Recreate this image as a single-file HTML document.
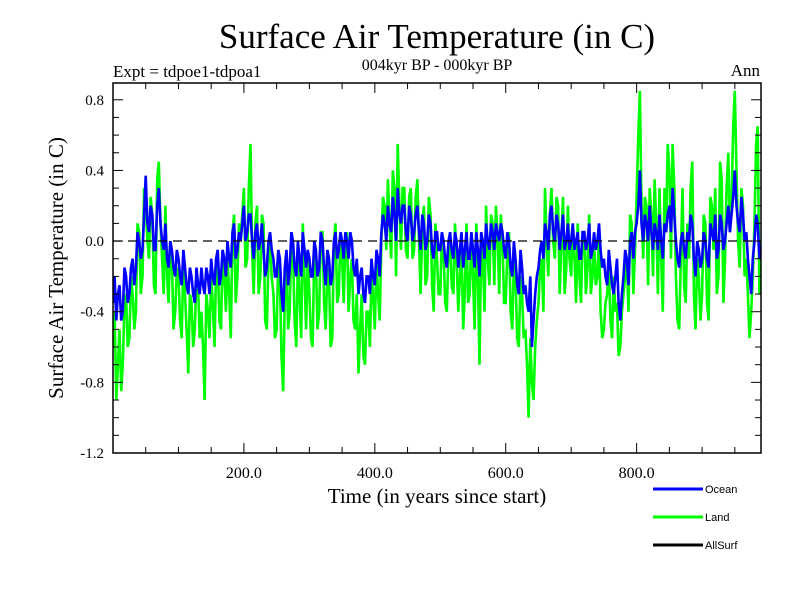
<!DOCTYPE html>
<html><head><meta charset="utf-8"><style>
body{margin:0;background:#fff}
svg text{font-family:"Liberation Serif",serif}
</style></head><body>
<svg id="chart" width="800" height="600" xmlns="http://www.w3.org/2000/svg">
<rect width="800" height="600" fill="#fff"/>
<text x="437" y="48" font-size="35" text-anchor="middle">Surface Air Temperature (in C)</text>
<text x="437" y="70" font-size="16" text-anchor="middle">004kyr BP - 000kyr BP</text>
<text x="113" y="77" font-size="17">Expt = tdpoe1-tdpoa1</text>
<text x="760" y="76" font-size="17" text-anchor="end">Ann</text>
<text transform="translate(63,268) rotate(-90)" font-size="21" text-anchor="middle">Surface Air Temperature (in C)</text>
<text x="437" y="503" font-size="21" text-anchor="middle">Time (in years since start)</text>
<defs><clipPath id="pc"><rect x="113" y="83" width="648" height="370"/></clipPath></defs>
<g id="series" clip-path="url(#pc)"></g>
<line x1="113" x2="761" y1="241" y2="241" stroke="#000" stroke-width="1.3" stroke-dasharray="9,6"/>
<g id="axes"></g>
<g>
<line x1="653" x2="703" y1="489" y2="489" stroke="#0000ff" stroke-width="3"/>
<text x="705" y="493" font-size="11" style="font-family:'Liberation Sans',sans-serif">Ocean</text>
<line x1="653" x2="703" y1="517" y2="517" stroke="#00ff00" stroke-width="3"/>
<text x="705" y="521" font-size="11" style="font-family:'Liberation Sans',sans-serif">Land</text>
<line x1="653" x2="703" y1="545" y2="545" stroke="#000" stroke-width="3"/>
<text x="705" y="549" font-size="11" style="font-family:'Liberation Sans',sans-serif">AllSurf</text>
</g>
</svg>
<script>
const oceanA=[-0.35,-0.45,-0.25,-0.4,-0.2,-0.3,-0.1,-0.15,0.0,-0.05,0.37,0.05,0.15,-0.05,0.3,0.0,0.1,-0.15,-0.05,-0.2,
-0.1,-0.25,-0.15,-0.3,-0.2,-0.35,-0.25,-0.15,-0.3,-0.2,-0.1,-0.25,-0.05,-0.2,-0.1,0.0,-0.15,0.1,-0.05,0.0,
0.2,0.05,0.15,-0.1,0.1,0.0,-0.05,-0.15,0.05,-0.1,-0.2,-0.1,-0.4,-0.05,-0.15,0.0,-0.2,-0.1,0.05,-0.15,
-0.1,-0.2,-0.05,-0.15,0.0,-0.25,-0.1,-0.2,0.05,-0.05,0.0,0.05,-0.1,0.0,-0.2,-0.3,-0.15,-0.35,-0.2,-0.1,
-0.25,-0.1,0.05,0.1,0.2,0.05,0.15,0.3,0.1,0.2,0.0,0.15,0.05,0.2,-0.05,0.1,0.0,0.1,-0.1,0.05,
-0.05,0.0,-0.15,0.05,-0.1,0.0,-0.05,-0.15,0.05,-0.1,-0.05,0.05,-0.2,0.0,0.1,-0.05,0.05,0.1,0.0,0.05,
-0.1,0.0,-0.2,-0.1,-0.3,-0.15,-0.25,-0.4,-0.6,-0.3,-0.15,0.0,0.1,-0.05,0.2,0.0,0.1,0.05,-0.05,0.1,
0.0,-0.05,0.05,-0.1,0.05,0.0,-0.1,0.05,0.0,-0.05,-0.1,-0.25,-0.15,-0.3,-0.1,-0.45,-0.2,-0.1,0.0,-0.1,
0.1,0.4,0.0,0.1,0.2,-0.05,0.05,0.15,-0.1,0.05,0.2,0.3,0.0,-0.15,0.05,-0.1,0.0,0.1,-0.2,-0.05,
-0.1,0.0,-0.15,0.05,0.15,-0.05,0.1,0.0,0.2,0.15,0.4,0.1,0.25,0.0,-0.1,-0.3,0.0,0.1,-0.05,0.1];
const oceanB=[-0.2,-0.3,-0.45,-0.15,-0.35,-0.15,-0.25,0.05,-0.1,0.15,0.1,0.2,-0.05,0.2,0.1,-0.05,-0.1,0.0,-0.15,-0.05,
-0.2,-0.05,-0.25,-0.15,-0.3,-0.15,-0.3,-0.25,-0.15,-0.3,-0.2,-0.1,-0.25,-0.05,-0.2,-0.1,0.05,-0.1,0.05,0.1,
0.0,0.15,0.0,0.05,-0.05,0.1,-0.2,0.0,-0.05,-0.2,-0.05,-0.3,-0.15,-0.25,0.05,-0.15,0.0,-0.2,-0.05,-0.05,
-0.2,0.0,-0.2,0.05,-0.15,-0.05,-0.25,0.0,-0.1,0.05,-0.1,0.0,0.05,-0.15,-0.1,-0.2,-0.3,-0.2,-0.3,-0.2,
-0.05,-0.2,0.15,0.0,0.1,0.25,0.0,0.15,0.2,0.05,0.2,0.0,0.15,0.05,0.15,-0.05,0.15,-0.05,0.05,-0.05,
0.05,-0.1,0.0,-0.05,0.05,-0.15,0.05,-0.05,-0.1,0.05,-0.15,-0.05,0.05,-0.1,0.0,0.1,-0.05,0.05,0.1,-0.05,
0.05,-0.15,0.0,-0.25,-0.05,-0.3,-0.35,-0.2,-0.45,-0.2,-0.05,-0.1,0.05,0.15,0.05,0.15,-0.05,0.15,0.0,-0.05,
0.1,0.0,-0.1,0.05,-0.05,0.1,-0.05,-0.05,0.1,-0.15,-0.2,-0.05,-0.25,-0.2,-0.35,-0.3,-0.05,-0.25,0.05,0.05,
0.2,0.1,0.15,0.0,0.05,0.1,-0.05,0.0,0.1,0.15,0.05,0.15,-0.1,0.0,-0.05,0.05,0.15,-0.1,0.0,-0.15,
0.05,-0.1,0.1,0.0,-0.1,0.15,-0.05,0.1,0.05,0.25,0.2,0.05,0.15,0.05,-0.2,-0.1,0.15,-0.1,0.05,0.0];
const landA=[-0.6,-0.9,-0.5,-0.7,-0.3,-0.55,-0.3,-0.4,0.05,-0.2,0.2,-0.1,0.15,-0.3,0.45,-0.1,0.2,-0.35,-0.1,-0.4,
-0.2,-0.55,-0.3,-0.75,-0.35,-0.5,-0.25,-0.4,-0.9,-0.4,-0.2,-0.6,-0.1,-0.5,-0.2,-0.1,-0.55,0.15,-0.2,0.0,
0.3,-0.1,0.55,-0.3,0.2,-0.2,0.1,-0.5,0.0,-0.3,-0.5,-0.2,-0.85,-0.1,-0.4,-0.05,-0.6,-0.3,0.1,-0.5,
-0.3,-0.6,-0.1,-0.4,0.05,-0.5,-0.2,-0.55,0.1,-0.3,-0.1,0.0,-0.4,-0.1,-0.5,-0.75,-0.3,-0.7,-0.4,-0.2,
-0.5,-0.3,0.0,0.2,0.35,-0.1,0.3,0.55,-0.05,0.3,-0.1,0.3,-0.05,0.35,-0.3,0.2,-0.2,0.15,-0.4,-0.1,
-0.3,-0.05,-0.4,0.05,-0.3,-0.1,-0.2,-0.5,0.1,-0.3,-0.2,0.1,-0.7,-0.1,0.2,-0.25,0.1,0.2,-0.3,0.0,
-0.35,0.05,-0.5,-0.2,-0.6,-0.3,-0.5,-1.0,-0.8,-0.6,-0.35,-0.1,0.3,-0.2,0.3,-0.1,0.2,0.0,-0.3,0.2,
-0.2,-0.1,0.1,-0.35,0.05,-0.15,-0.3,0.0,-0.2,-0.4,-0.5,-0.3,-0.45,-0.2,-0.35,-0.6,-0.3,-0.1,0.15,-0.3,
0.25,0.85,-0.1,0.2,0.3,-0.2,0.1,0.3,-0.4,0.05,0.4,0.55,-0.2,-0.5,0.3,-0.35,-0.1,0.45,-0.5,-0.2,
-0.3,0.1,-0.45,0.2,0.3,-0.2,0.35,-0.1,0.5,0.2,0.85,0.0,0.3,-0.2,-0.3,-0.4,0.1,0.65,-0.1,0.2];
const landB=[-0.4,-0.7,-0.85,-0.35,-0.6,-0.2,-0.5,0.1,-0.3,0.3,0.0,0.25,-0.25,0.35,0.1,-0.3,-0.2,0.0,-0.5,-0.15,
-0.45,-0.1,-0.5,-0.3,-0.6,-0.2,-0.55,-0.6,-0.3,-0.55,-0.35,-0.15,-0.45,-0.05,-0.4,-0.3,0.05,-0.35,0.1,0.15,
-0.15,0.3,-0.05,0.1,-0.3,0.15,-0.45,-0.1,-0.2,-0.55,-0.1,-0.65,-0.3,-0.5,0.05,-0.45,-0.1,-0.55,-0.2,-0.1,
-0.55,-0.05,-0.5,0.05,-0.35,-0.15,-0.6,0.0,-0.35,0.05,-0.35,0.05,-0.2,-0.45,-0.3,-0.5,-0.65,-0.4,-0.6,-0.3,
-0.1,-0.45,0.25,-0.05,0.1,0.4,-0.2,0.2,0.3,-0.05,0.25,-0.1,0.25,0.0,0.1,-0.25,0.25,-0.25,0.1,-0.3,
0.05,-0.35,-0.05,-0.25,0.1,-0.4,0.0,-0.3,-0.35,0.05,-0.5,-0.2,0.0,-0.4,-0.1,0.15,-0.25,0.05,0.15,-0.35,
-0.05,-0.4,-0.1,-0.55,-0.2,-0.55,-0.7,-0.55,-0.9,-0.45,-0.15,-0.4,0.0,0.15,0.0,0.25,-0.3,0.25,-0.15,-0.1,
0.1,-0.35,-0.2,0.05,-0.3,0.15,-0.2,-0.25,0.05,-0.55,-0.35,-0.15,-0.55,-0.4,-0.65,-0.4,-0.2,-0.4,0.1,-0.05,
0.6,0.2,0.25,-0.25,0.15,0.35,-0.3,-0.1,0.3,0.55,-0.1,0.3,-0.45,-0.1,-0.25,0.1,0.3,-0.3,-0.1,-0.45,
0.15,-0.35,0.25,-0.05,-0.3,0.45,-0.35,0.3,0.05,0.65,0.4,-0.15,0.2,-0.1,-0.55,-0.2,0.55,-0.3,0.15,-0.25];
const xTicks=[200,400,600,800];
const xTickLabels=["200.0","400.0","600.0","800.0"];
const yTicks=[0.8,0.4,0.0,-0.4,-0.8,-1.2];
const yTickLabels=["0.8","0.4","0.0","-0.4","-0.8","-1.2"];
const STEP=5;
const X0=113,X1=761,Y0=83,Y1=453,XMIN=0,XMAX=990,YMIN=-1.2,YMAX=0.895;
const sx=v=>X0+(v-XMIN)/(XMAX-XMIN)*(X1-X0);
const sy=v=>Y1-(v-YMIN)/(YMAX-YMIN)*(Y1-Y0);
const NS='http://www.w3.org/2000/svg';
const mk=(t,a,p)=>{const e=document.createElementNS(NS,t);for(const k in a)e.setAttribute(k,a[k]);p.appendChild(e);return e;};
function interleave(a,b){const pts=[];for(let i=0;i<a.length;i++){pts.push([i*STEP,a[i]]);if(i<b.length)pts.push([i*STEP+STEP/2,b[i]]);}return pts;}
const sg=document.getElementById('series');
function drawLine(pts,color,w){return mk('polyline',{points:pts.map(p=>sx(p[0]).toFixed(1)+','+sy(p[1]).toFixed(1)).join(' '),fill:'none',stroke:color,'stroke-width':w},sg);}
const lg=drawLine(interleave(landA,landB),'#00ff00',2.6);


const og=drawLine(interleave(oceanA,oceanB),'#0000ff',2.6);


const ax=document.getElementById('axes');
const fr=mk('rect',{x:X0,y:Y0,width:X1-X0,height:Y1-Y0,fill:'none',stroke:'#000','stroke-width':1.5},ax);


for(let v=50;v<XMAX;v+=50){const maj=v%200===0,L=maj?10:6,x=sx(v);
mk('line',{x1:x,x2:x,y1:Y1,y2:Y1-L,stroke:'#000','stroke-width':1},ax);
mk('line',{x1:x,x2:x,y1:Y0,y2:Y0+L,stroke:'#000','stroke-width':1},ax);}
for(let k=-11;k<=8;k++){const v=k/10,maj=(k%4===0),L=maj?10:6,y=sy(v);
mk('line',{x1:X0,x2:X0+L,y1:y,y2:y,stroke:'#000','stroke-width':1},ax);
mk('line',{x1:X1,x2:X1-L,y1:y,y2:y,stroke:'#000','stroke-width':1},ax);}
xTicks.forEach((v,i)=>{const t=mk('text',{x:sx(v),y:478,'font-size':16,'text-anchor':'middle'},ax);t.textContent=xTickLabels[i];

});
yTicks.forEach((v,i)=>{const t=mk('text',{x:104,y:sy(v)+5,'font-size':15,'text-anchor':'end'},ax);t.textContent=yTickLabels[i];

});
</script>
</body></html>
